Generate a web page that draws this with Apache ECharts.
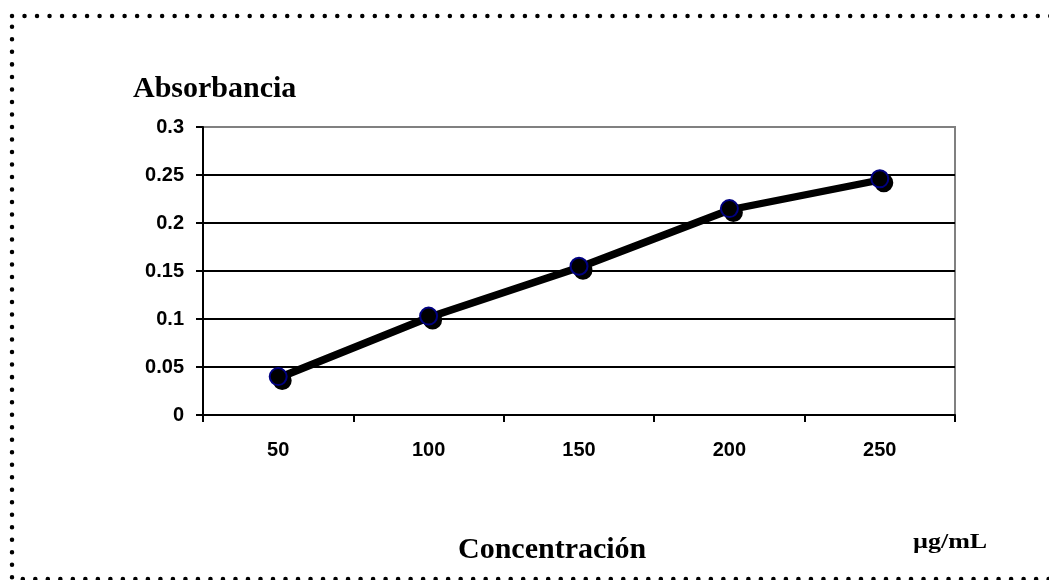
<!DOCTYPE html>
<html><head><meta charset="utf-8">
<script src="https://cdn.jsdelivr.net/npm/echarts@6/dist/echarts.min.js"></script>
<style>html,body{margin:0;padding:0;background:#fff}#c{width:1049px;height:580px}</style>
</head><body><div id="c"></div>
<script>
const categories = ['50', '100', '150', '200', '250'];
const absorbance = [0.04, 0.103, 0.155, 0.215, 0.246];
const yTicks = [0, 0.05, 0.1, 0.15, 0.2, 0.25, 0.3];

const chart = echarts.init(document.getElementById('c'));
const boldLbl = {fontFamily: '"Liberation Sans", Arial', fontWeight: 'bold', fontSize: 20, color: '#000'};
chart.setOption({
  animation: false,
  backgroundColor: '#fff',
  grid: {left: 203, right: 94, top: 127, bottom: 165, show: true, borderColor: '#808080', borderWidth: 2},
  xAxis: {
    type: 'category', data: categories, boundaryGap: true,
    axisLine: {lineStyle: {color: '#000', width: 2}},
    axisTick: {show: true, alignWithLabel: false, length: 7, lineStyle: {color: '#000', width: 2}},
    axisLabel: Object.assign({margin: 25}, boldLbl),
    splitLine: {show: false}
  },
  yAxis: {
    type: 'value', min: yTicks[0], max: yTicks[yTicks.length - 1], interval: 0.05,
    axisLine: {show: true, lineStyle: {color: '#000', width: 2}},
    axisTick: {show: true, length: 7, lineStyle: {color: '#000', width: 2}},
    axisLabel: Object.assign({margin: 19}, boldLbl),
    splitLine: {show: true, lineStyle: {color: ['#000','#000','#000','#000','#000','#000','#808080'], width: 2}}
  },
  series: [{
    type: 'line', data: absorbance, symbol: 'circle', symbolSize: 17,
    lineStyle: {color: '#000', width: 5, shadowColor: '#000', shadowOffsetX: 2, shadowOffsetY: 2, shadowBlur: 0},
    itemStyle: {color: '#000', borderColor: '#000080', borderWidth: 2, shadowColor: '#000', shadowOffsetX: 4, shadowOffsetY: 4, shadowBlur: 0},
    z: 5
  }],
  graphic: [
    {type: 'rect', shape: {x: 12, y: 16, width: 1100, height: 563}, silent: true,
     style: {fill: 'none', stroke: '#000', lineWidth: 4.5, lineDash: [0.01, 12.5], lineCap: 'round'}},
    {type: 'text', x: 133, y: 74, style: {text: 'Absorbancia', font: 'bold 30px "Liberation Serif", "Times New Roman", serif', fill: '#000'}},
    {type: 'text', x: 458, y: 535, style: {text: 'Concentración', font: 'bold 30px "Liberation Serif", "Times New Roman", serif', fill: '#000'}},
    {type: 'text', x: 913, y: 533, scaleX: 1.3, style: {text: 'µg/mL', font: 'bold 20px "Liberation Serif", "Times New Roman", serif', fill: '#000'}}
  ]
});
</script></body></html>
